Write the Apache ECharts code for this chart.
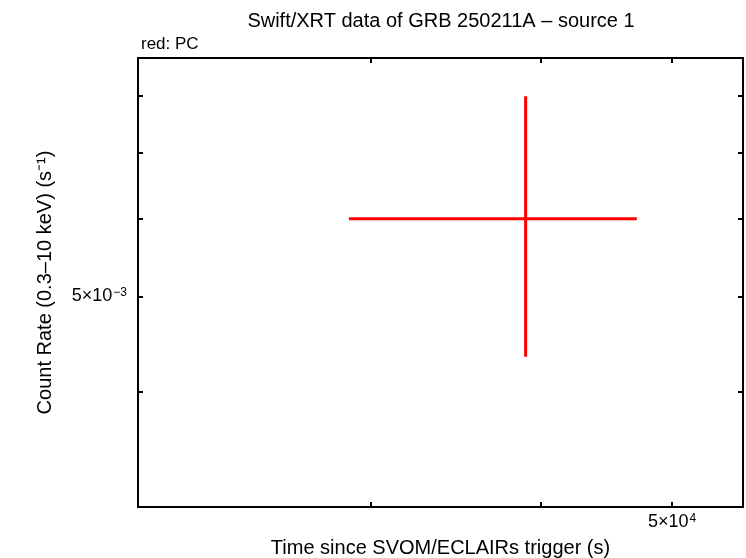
<!DOCTYPE html>
<html>
<head>
<meta charset="utf-8">
<script src="https://cdn.jsdelivr.net/npm/echarts@6/dist/echarts.min.js"></script>
<style>
  html, body { margin: 0; padding: 0; background: #fff; }
  #chart { width: 746px; height: 558px; }
</style>
</head>
<body>
<div id="chart"></div>
<script>
  // one PC point: time, rate, time range, rate error range
  const times = [3.90e4];
  const rates = [6.0e-3];
  const timeLo = [2.89e4];
  const timeHi = [4.71e4];
  const rateLo = [4.34e-3];
  const rateHi = [8.0e-3];

  const xTicks = [3e4, 4e4, 5e4];
  const xLabels = [5e4];
  const yTicks = [4e-3, 5e-3, 6e-3, 7e-3, 8e-3];
  const yLabels = [5e-3];

  const xMin = 2.02e4, xMax = 5.64e4;
  const yMin = 3.05e-3, yMax = 8.75e-3;

  const font = 'Liberation Sans, Arial, sans-serif';

  const data = times.map((t, i) => [t, rates[i], timeLo[i], timeHi[i], rateLo[i], rateHi[i]]);

  const supRich = {
    b: { color: '#000', fontSize: 18, fontFamily: font },
    s: { color: '#000', fontSize: 12, fontFamily: font, verticalAlign: 'bottom', padding: [0, 0, 7, 1] }
  };
  // 5e4 -> 5×10^4
  function sciLabel(v) {
    const e = Math.floor(Math.log10(v) + 1e-9);
    const m = Math.round(v / Math.pow(10, e));
    const es = e < 0 ? '−' + (-e) : '' + e;
    return '{b|' + m + '×10}{s|' + es + '}';
  }

  function xAxisCfg(pos, labels) {
    return {
      type: 'log', position: pos, min: xMin, max: xMax,
      axisLine: { show: true, lineStyle: { color: '#000', width: 2 } },
      axisTick: { show: true, inside: true, length: 5, customValues: xTicks, lineStyle: { color: '#000', width: 2 } },
      axisLabel: {
        show: labels, customValues: xLabels, margin: 6,
        formatter: sciLabel, rich: supRich
      },
      minorTick: { show: false },
      splitLine: { show: false }
    };
  }
  function yAxisCfg(pos, labels) {
    return {
      type: 'log', position: pos, min: yMin, max: yMax,
      axisLine: { show: true, lineStyle: { color: '#000', width: 2 } },
      axisTick: { show: true, inside: true, length: 5, customValues: yTicks, lineStyle: { color: '#000', width: 2 } },
      axisLabel: {
        show: labels, customValues: yLabels, margin: 11,
        formatter: sciLabel, rich: supRich
      },
      minorTick: { show: false },
      splitLine: { show: false }
    };
  }

  const chart = echarts.init(document.getElementById('chart'));
  const bottomX = xAxisCfg('bottom', true);
  bottomX.name = 'Time since SVOM/ECLAIRs trigger (s)';
  bottomX.nameLocation = 'middle';
  bottomX.nameGap = 31;
  bottomX.nameTextStyle = { color: '#000', fontSize: 20, fontFamily: font };
  const leftY = yAxisCfg('left', true);
  leftY.name = 'Count Rate (0.3–10 keV) (s⁻¹)';
  leftY.nameLocation = 'middle';
  leftY.nameGap = 83;
  leftY.nameTextStyle = { color: '#000', fontSize: 20, fontFamily: font };

  chart.setOption({
    animation: false,
    title: [
      { text: 'Swift/XRT data of GRB 250211A – source 1', left: 436, top: 6, textAlign: 'center',
        textStyle: { color: '#000', fontSize: 20, fontWeight: 'normal', fontFamily: font } },
      { text: 'red: PC', left: 136, top: 31,
        textStyle: { color: '#000', fontSize: 17, fontWeight: 'normal', fontFamily: font } }
    ],
    grid: { left: 138, right: 3, top: 58, bottom: 51, containLabel: false, outerBoundsMode: 'none' },
    xAxis: [bottomX, xAxisCfg('top', false)],
    yAxis: [leftY, yAxisCfg('right', false)],
    series: [{
      type: 'custom',
      xAxisIndex: 0, yAxisIndex: 0,
      data: data,
      renderItem: function (params, api) {
        const c = api.coord([api.value(0), api.value(1)]);
        const l = api.coord([api.value(2), api.value(1)]);
        const r = api.coord([api.value(3), api.value(1)]);
        const b = api.coord([api.value(0), api.value(4)]);
        const t = api.coord([api.value(0), api.value(5)]);
        const st = { stroke: '#ff0000', lineWidth: 3 };
        return {
          type: 'group',
          children: [
            { type: 'line', shape: { x1: l[0], y1: c[1], x2: r[0], y2: c[1] }, style: st },
            { type: 'line', shape: { x1: c[0], y1: t[1], x2: c[0], y2: b[1] }, style: st }
          ]
        };
      }
    }]
  });
</script>
</body>
</html>
